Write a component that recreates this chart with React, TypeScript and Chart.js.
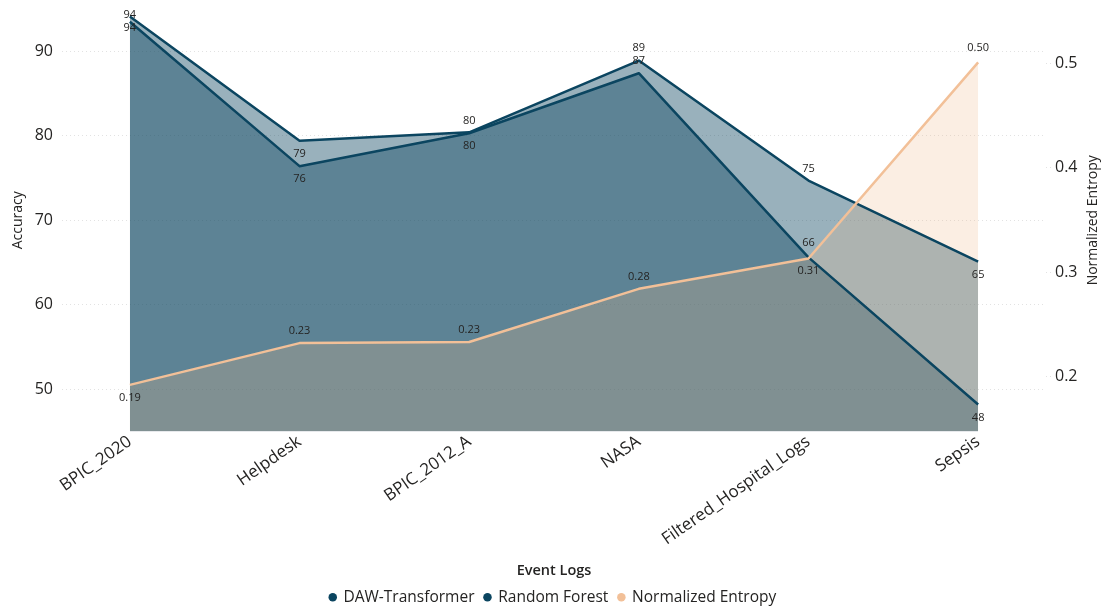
import React, { useEffect, useRef } from "react";
import { Chart, registerables } from "chart.js";

Chart.register(...registerables);

// Event logs on the category axis
const eventLogs = ["BPIC_2020", "Helpdesk", "BPIC_2012_A", "NASA", "Filtered_Hospital_Logs", "Sepsis"];

// Accuracy (%) per model
const dawTransformer = [94.1, 79.4, 80.4, 88.9, 74.7, 65.1];
const randomForest = [93.5, 76.4, 80.3, 87.4, 65.6, 48.2];

// Normalized entropy of each log
const normalizedEntropy = [0.192, 0.232, 0.233, 0.284, 0.313, 0.501];

// Axis tick values
const accuracyTicks = [50, 60, 70, 80, 90];
const entropyTicks = [0.2, 0.3, 0.4, 0.5];

// Vertical offsets (px) of each value label from its point
const dawLabelDy = [-2, 13, -12, -13, -12, 13];
const rfLabelDy = [6, 13, 13, -12, -15, 13];
const entropyLabelDy = [13, -12, -12, -12, 12, -14];

const FONT = "'Segoe UI', 'Open Sans', sans-serif";
const TEXT = "#252423";
const TEAL = "rgb(11,69,96)";
const TEAL_FILL = "rgba(11,69,96,0.42)";
const PEACH = "rgb(242,192,152)";
const PEACH_FILL = "rgba(240,185,140,0.24)";

const valueLabels = {
  id: "valueLabels",
  afterDatasetsDraw(chart: any) {
    const { ctx, chartArea } = chart;
    ctx.save();
    ctx.font = `11px ${FONT}`;
    ctx.fillStyle = TEXT;
    ctx.textAlign = "center";
    ctx.textBaseline = "middle";
    chart.data.datasets.forEach((ds: any, i: number) => {
      const meta = chart.getDatasetMeta(i);
      meta.data.forEach((pt: any, j: number) => {
        const v = ds.data[j].y;
        const text = ds.labelFormat(v);
        let y = pt.y + ds.labelDy[j];
        y = Math.max(y, chartArea.top + 5);
        ctx.fillText(text, pt.x, y);
      });
    });
    ctx.restore();
  },
};

const rightTitle = {
  id: "rightTitle",
  afterDraw(chart: any) {
    const { ctx, chartArea } = chart;
    ctx.save();
    ctx.font = `14px ${FONT}`;
    ctx.fillStyle = TEXT;
    ctx.textAlign = "center";
    ctx.textBaseline = "middle";
    ctx.translate(1093, (chartArea.top + chartArea.bottom) / 2);
    ctx.rotate(-Math.PI / 2);
    ctx.fillText("Normalized Entropy", 0, 0);
    ctx.restore();
  },
};

export default function App() {
  const ref = useRef<HTMLCanvasElement>(null);

  useEffect(() => {
    if (!ref.current) return;
    const toPoints = (arr: number[]) => arr.map((y, i) => ({ x: i, y }));
    const chart = new Chart(ref.current, {
      type: "line",
      data: {
        datasets: [
          {
            label: "DAW-Transformer",
            data: toPoints(dawTransformer),
            borderColor: TEAL,
            backgroundColor: TEAL_FILL,
            borderWidth: 2.5,
            fill: "start",
            yAxisID: "y",
            order: 1,
            labelDy: dawLabelDy,
            labelFormat: (v: number) => `${Math.round(v)}`,
          } as any,
          {
            label: "Random Forest",
            data: toPoints(randomForest),
            borderColor: TEAL,
            backgroundColor: TEAL_FILL,
            borderWidth: 2.5,
            fill: "start",
            yAxisID: "y",
            order: 1,
            labelDy: rfLabelDy,
            labelFormat: (v: number) => `${Math.round(v)}`,
          } as any,
          {
            label: "Normalized Entropy",
            data: toPoints(normalizedEntropy),
            borderColor: PEACH,
            backgroundColor: PEACH_FILL,
            borderWidth: 2.5,
            fill: "start",
            yAxisID: "y1",
            order: 0,
            labelDy: entropyLabelDy,
            labelFormat: (v: number) => v.toFixed(2),
          } as any,
        ],
      },
      options: {
        responsive: false,
        animation: false,
        layout: { padding: { top: 9, right: 0, bottom: -6, left: 0 } },
        elements: {
          point: { radius: 0, hoverRadius: 0 },
          line: { tension: 0, borderJoinStyle: "round" },
        },
        plugins: {
          tooltip: { enabled: false },
          filler: { drawTime: "beforeDatasetsDraw" },
          legend: {
            position: "bottom",
            labels: {
              usePointStyle: true,
              pointStyle: "circle",
              boxWidth: 6,
              boxHeight: 6,
              padding: 10,
              color: TEXT,
              font: { family: FONT, size: 15.5 },
              sort: (a: any, b: any) => a.datasetIndex - b.datasetIndex,
              generateLabels(chart: any) {
                const items = Chart.defaults.plugins.legend.labels.generateLabels(chart);
                return items.map((it: any) => {
                  const ds = chart.data.datasets[it.datasetIndex];
                  return { ...it, fillStyle: ds.borderColor, strokeStyle: ds.borderColor, lineWidth: 0, pointStyle: "circle" };
                });
              },
            },
          },
        },
        scales: {
          x: {
            type: "linear",
            min: -0.4,
            max: 5.4,
            grid: { display: false, drawTicks: false },
            border: { display: false },
            afterBuildTicks(scale: any) {
              scale.ticks = eventLogs.map((_, i) => ({ value: i }));
            },
            afterFit(scale: any) {
              scale.height = 148;
            },
            ticks: {
              autoSkip: false,
              minRotation: 35,
              maxRotation: 35,
              padding: 0,
              color: TEXT,
              font: { family: FONT, size: 17 },
              callback: (v: any) => eventLogs[v] ?? "",
            },
            title: {
              display: true,
              text: "Event Logs",
              color: TEXT,
              font: { family: FONT, size: 14.5, weight: "600" },
              padding: { top: 0, bottom: 0 },
            },
          },
          y: {
            position: "left",
            min: 45,
            max: 95,
            afterBuildTicks(scale: any) {
              scale.ticks = accuracyTicks.map((v) => ({ value: v }));
            },
            afterFit(scale: any) {
              scale.width = 62;
              scale.paddingTop = 0;
              scale.paddingBottom = 0;
            },
            grid: { color: "#e2e2e2", drawTicks: false, lineWidth: 1 },
            border: { display: false, dash: [1, 3] },
            ticks: {
              padding: 9,
              color: TEXT,
              font: { family: FONT, size: 16 },
            },
            title: {
              display: true,
              text: "Accuracy",
              color: TEXT,
              font: { family: FONT, size: 14 },
              padding: { top: 10, bottom: 0 },
            },
          },
          y1: {
            position: "right",
            min: 0.1473,
            max: 0.5521,
            afterBuildTicks(scale: any) {
              scale.ticks = entropyTicks.map((v) => ({ value: v }));
            },
            afterFit(scale: any) {
              scale.width = 60;
              scale.paddingTop = 0;
              scale.paddingBottom = 0;
            },
            grid: {
              drawOnChartArea: false,
              drawTicks: true,
              tickLength: 6,
              tickColor: "#e2e2e2",
              tickBorderDash: [1, 3],
            },
            border: { display: false },
            ticks: {
              padding: 3,
              color: TEXT,
              font: { family: FONT, size: 16 },
              callback: (v: any) => Number(v).toFixed(1),
            },
          },
        },
      } as any,
      plugins: [valueLabels, rightTitle],
    });
    return () => chart.destroy();
  }, []);

  return (
    <div style={{ position: "absolute", left: 0, top: 0, width: 1106, height: 609, background: "#fff" }}>
      <canvas ref={ref} width={1106} height={609} />
    </div>
  );
}
